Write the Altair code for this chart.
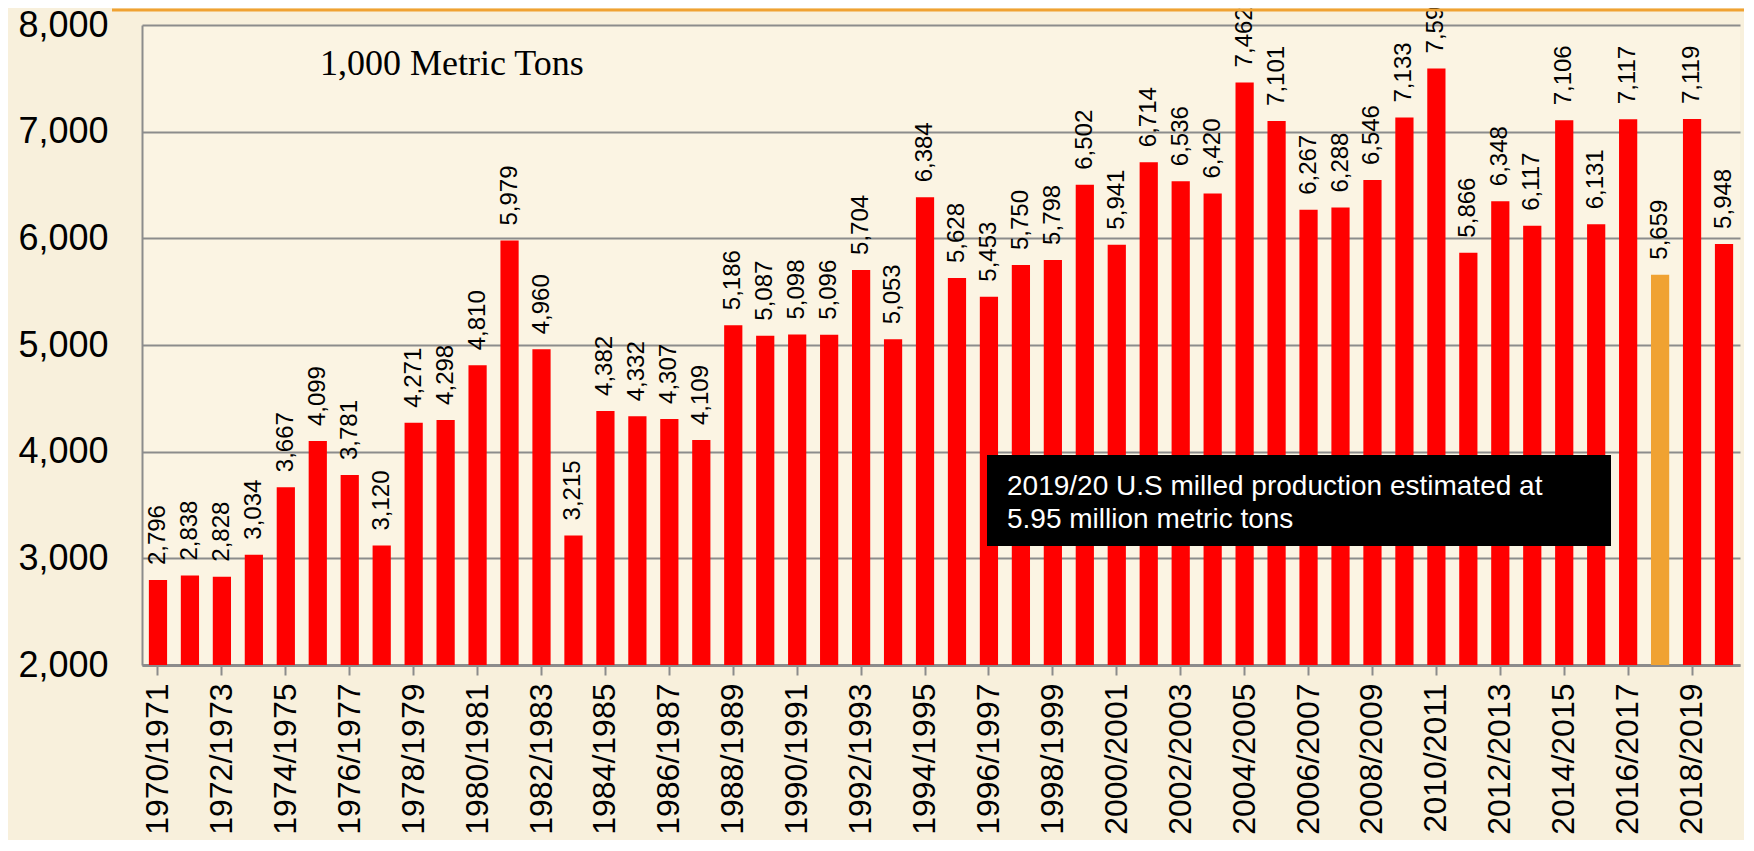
import altair as alt

seasons = [f"{y}/{y+1}" for y in range(1970, 2020)]
production = [2796, 2838, 2828, 3034, 3667, 4099, 3781, 3120, 4271, 4298,
              4810, 5979, 4960, 3215, 4382, 4332, 4307, 4109, 5186, 5087,
              5098, 5096, 5704, 5053, 6384, 5628, 5453, 5750, 5798, 6502,
              5941, 6714, 6536, 6420, 7462, 7101, 6267, 6288, 6546, 7133,
              7593, 5866, 6348, 6117, 7106, 6131, 7117, 5659, 7119, 5948]
labelled_seasons = seasons[::2]
y_ticks = [2000, 3000, 4000, 5000, 6000, 7000, 8000]
highlight_season = "2017/2018"
unit_label = "1,000 Metric Tons"
note_line1 = "2019/20 U.S milled production estimated at"
note_line2 = "5.95  million metric tons"

records = [{"season": s, "tons": int(v), "hl": s == highlight_season}
           for s, v in zip(seasons, production)]
data = alt.Data(values=records)
one = alt.Data(values=[{"a": 1}])

RED = "#FF0000"
ORANGE = "#F0A232"
GRAY = "#8C8C8C"

x_enc = alt.X(
    "season:N", sort=seasons,
    scale=alt.Scale(paddingInner=0.43, paddingOuter=0.215),
    axis=alt.Axis(
        title=None, values=labelled_seasons, labelAngle=-90, labelFontSize=32,
        labelFont="Liberation Sans", labelColor="black", labelPadding=8,
        tickSize=10, tickColor=GRAY, tickWidth=2,
        domainColor=GRAY, domainWidth=3, grid=False,
    ),
)
y_scale = alt.Scale(domain=[2000, 8000], zero=False, nice=False)
y_enc = alt.Y(
    "tons:Q", scale=y_scale,
    axis=alt.Axis(
        title=None, values=y_ticks, format=",.0f",
        labelFontSize=36, labelFont="Liberation Sans", labelColor="black",
        tickSize=0, labelPadding=34, grid=True, gridColor=GRAY, gridWidth=2,
        domainColor=GRAY, domainWidth=2,
    ),
)

base = alt.Chart(data).transform_calculate(base="2000", label="format(datum.tons, ',')")

bars = base.mark_bar(clip=True).encode(
    x=x_enc,
    y=y_enc,
    y2="base:Q",
    color=alt.Color("hl:N", scale=alt.Scale(domain=[False, True], range=[RED, ORANGE]), legend=None),
)

labels = base.mark_text(
    angle=270, align="left", baseline="middle", dx=15, fontSize=24,
    font="Liberation Sans", color="black",
).encode(
    x=alt.X("season:N", sort=seasons),
    y=alt.Y("tons:Q"),
    text="label:N",
)

unit = alt.Chart(one).mark_text(
    align="left", baseline="alphabetic", font="Liberation Serif", fontSize=36, color="black",
    text=unit_label,
).encode(x=alt.value(178), y=alt.value(50))

note_box = alt.Chart(one).mark_rect(color="black").encode(
    x=alt.value(845), x2=alt.value(1469), y=alt.value(430), y2=alt.value(521)
)

note_text1 = alt.Chart(one).mark_text(
    align="left", baseline="alphabetic", font="Liberation Sans", fontSize=28, color="white",
    text=note_line1,
).encode(x=alt.value(865), y=alt.value(470))

note_text2 = alt.Chart(one).mark_text(
    align="left", baseline="alphabetic", font="Liberation Sans", fontSize=28, color="white",
    text=note_line2,
).encode(x=alt.value(865), y=alt.value(503))

top_line = alt.Chart(one).mark_rule(color=ORANGE, strokeWidth=3).encode(
    x=alt.value(-30), x2=alt.value(1610), y=alt.value(-15)
)

chart = alt.layer(bars, labels, unit, note_box, note_text1, note_text2, top_line).properties(
    width=1598, height=640,
    autosize=alt.AutoSizeParams(type="none"),
    padding={"left": 134, "top": 17, "right": 4, "bottom": 175},
    background="#F8F0DC",
).configure_view(strokeWidth=0, fill="#FBF4E3")

chart.save("out.html", embed_options={"renderer": "svg", "actions": False})
